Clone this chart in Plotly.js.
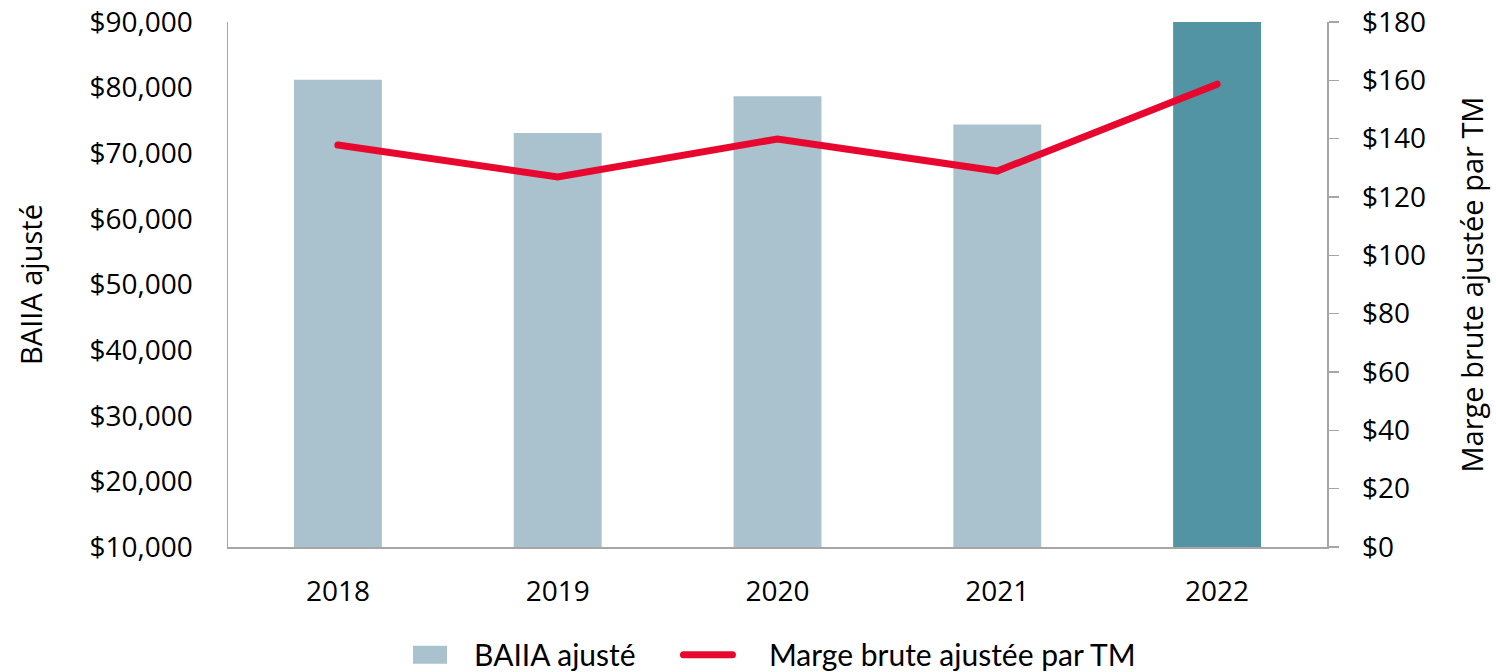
<!DOCTYPE html>
<html>
<head>
<meta charset="utf-8">
<script src="https://cdn.plot.ly/plotly-3.0.1.min.js"></script>
<style>
html,body{margin:0;padding:0;background:#fff;}
#chart{width:1496px;height:672px;}
#chart .scatterlayer .js-line, #chart .legendlines path{stroke-linecap:round;}
</style>
</head>
<body>
<div id="chart"></div>
<script>
const years = ["2018", "2019", "2020", "2021", "2022"];
const baiia = [81200, 73100, 78700, 74400, 91500];
const marge = [137.8, 126.9, 139.9, 128.9, 158.7];
const barColors = ["#AAC1CE", "#AAC1CE", "#AAC1CE", "#AAC1CE", "#5294A3"];
const seriesNames = ["BAIIA ajusté", "Marge brute ajustée par TM"];

const font = "Open Sans, Noto Sans, sans-serif";
const legFont = {family: "Lato, Open Sans, sans-serif", size: 30, color: "#000"};
const data = [
  {
    type: "bar", x: years, y: baiia, name: seriesNames[0], legend: "legend",
    marker: {color: barColors}, width: 0.4, yaxis: "y", hoverinfo: "skip"
  },
  {
    type: "scatter", mode: "lines", x: years, y: marge, name: seriesNames[1], legend: "legend2",
    line: {color: "#E8082F", width: 7}, yaxis: "y2", hoverinfo: "skip"
  }
];
const layout = {
  width: 1496, height: 672,
  margin: {l: 228, r: 169, t: 22, b: 125, autoexpand: false},
  paper_bgcolor: "#fff", plot_bgcolor: "#fff",
  font: {family: font, size: 28, color: "#000"},
  showlegend: true,
  legend: {
    orientation: "h", x: 0.1438, xanchor: "left", xref: "paper",
    y: -0.205, yanchor: "middle", itemwidth: 78, font: legFont
  },
  legend2: {
    orientation: "h", x: 0.4085, xanchor: "left", xref: "paper",
    y: -0.205, yanchor: "middle", itemwidth: 82, font: legFont
  },
  xaxis: {
    type: "category", showgrid: false, zeroline: false,
    showline: true, linecolor: "#A6A6A6", linewidth: 1.5,
    ticks: "", ticklabelstandoff: 19,
    tickfont: {family: font, size: 28}
  },
  yaxis: {
    range: [10000, 90000], dtick: 10000, tick0: 10000,
    tickprefix: "$", tickformat: ",d", separatethousands: true,
    showgrid: false, zeroline: false, showline: true, linecolor: "#A6A6A6", linewidth: 1.5,
    ticks: "", ticklabelstandoff: 28, automargin: false,
    title: {text: "BAIIA ajusté", font: {family: font, size: 29}, standoff: 38}
  },
  yaxis2: {
    overlaying: "y", side: "right", range: [0, 180], dtick: 20, tick0: 0,
    tickprefix: "$", showgrid: false, zeroline: false,
    showline: true, linecolor: "#A6A6A6", linewidth: 1.5,
    ticks: "outside", ticklen: 10, tickcolor: "#A6A6A6", tickwidth: 1.5,
    ticklabelstandoff: 18, automargin: false,
    title: {text: "Marge brute ajustée par TM", font: {family: font, size: 29}, standoff: 37}
  }
};
function adjustLegendSymbols() {
  document.querySelectorAll("#chart path").forEach(function (p) {
    const d = (p.getAttribute("d") || "").replace(/\s/g, "");
    if (d === "M6,6H-6V-6H6Z") {
      p.setAttribute("d", "M17,9H-17V-9H17Z");
    }
  });
  document.querySelectorAll("#chart .legendlines path").forEach(function (p) {
    const d = (p.getAttribute("d") || "").replace(/\s/g, "");
    if (/^M5,0h\d+$/.test(d)) {
      p.setAttribute("d", "M6.5,0h49");
    }
  });
}
const gd = document.getElementById("chart");
const pr = Plotly.newPlot(gd, data, layout, {displayModeBar: false, staticPlot: true});
adjustLegendSymbols();
if (pr && pr.then) pr.then(adjustLegendSymbols);
[0, 30, 100, 300, 600].forEach(function (t) { setTimeout(adjustLegendSymbols, t); });
</script>
</body>
</html>
